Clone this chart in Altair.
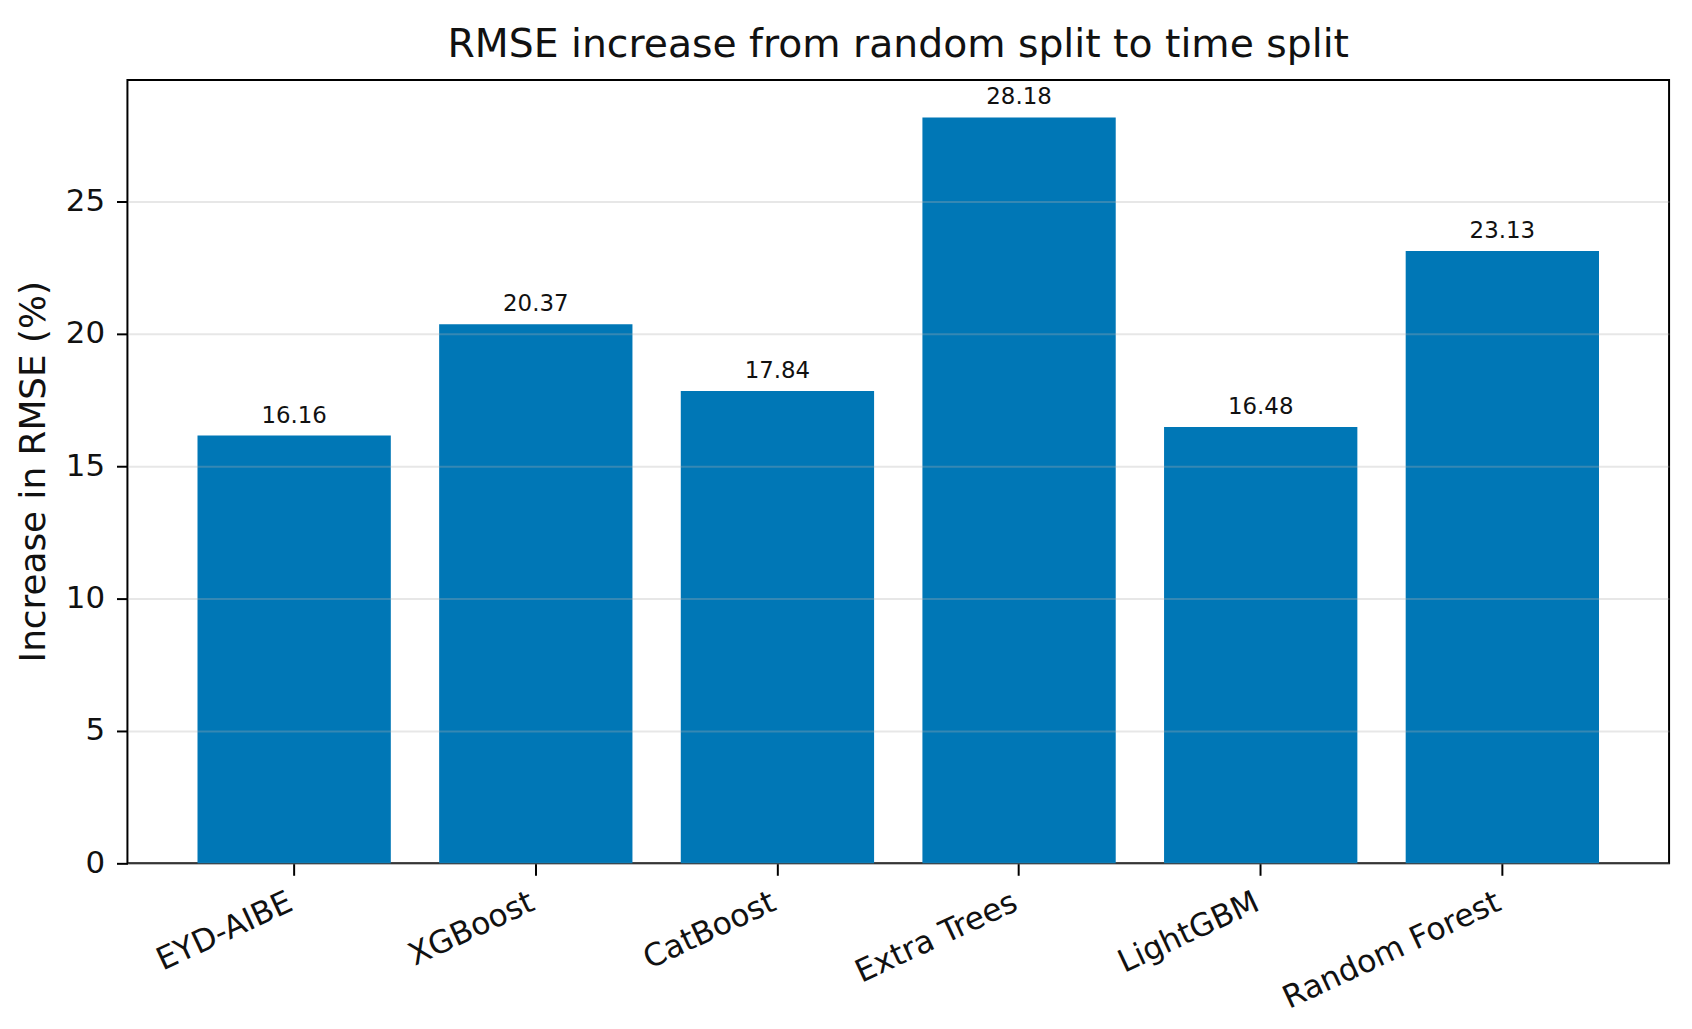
import altair as alt
import pandas as pd

models = ["EYD-AIBE", "XGBoost", "CatBoost", "Extra Trees", "LightGBM", "Random Forest"]
increase = [16.16, 20.37, 17.84, 28.18, 16.48, 23.13]
y_ticks = [0, 5, 10, 15, 20, 25]

df = pd.DataFrame({"model": models, "value": increase})
df["label"] = [f"{v:.2f}" for v in increase]

FONT = "DejaVu Sans"
BAR = "#0077B6"

x_enc = alt.X(
    "model:N",
    sort=models,
    scale=alt.Scale(paddingInner=0.2, paddingOuter=0.29),
    axis=alt.Axis(
        title=None,
        labelAngle=-25,
        labelAlign="right",
        labelBaseline="top",
        labelFontSize=31.5,
        labelPadding=11,
        labelOffset=-10,
        labelLimit=500,
        tickSize=12,
        tickWidth=2,
        tickColor="black",
        domain=False,
        grid=False,
    ),
)
y_enc = alt.Y(
    "value:Q",
    scale=alt.Scale(domain=[0, 29.59], nice=False, zero=True),
    axis=alt.Axis(
        title="Increase in RMSE (%)",
        values=y_ticks,
        format="d",
        labelFontSize=31,
        labelPadding=12,
        tickSize=11,
        tickWidth=2,
        tickColor="black",
        domain=False,
        grid=True,
        gridColor="#b0b0b0",
        gridOpacity=0.3,
        gridWidth=2,
        titleFontSize=36,
        titleFontWeight="normal",
        titleAngle=270,
        titleAlign="center",
        titleBaseline="alphabetic",
        titleX=-83,
        titleY=393,
        zindex=1,
    ),
)

bars = alt.Chart(df).mark_bar(color=BAR).encode(x=x_enc, y=y_enc)

labels = alt.Chart(df).mark_text(
    font=FONT, fontSize=23, color="#111111", baseline="alphabetic", align="center", dy=-13
).encode(x=alt.X("model:N", sort=models), y=alt.Y("value:Q"), text="label:N")

chart = (
    alt.layer(bars, labels)
    .properties(
        width=1549,
        height=787,
        autosize=alt.AutoSizeParams(type="none"),
        padding={"left": 120, "top": 70, "right": 15, "bottom": 155},
        title=alt.TitleParams(
            "RMSE increase from random split to time split",
            fontSize=39.5,
            font=FONT,
            fontWeight="normal",
            color="#111111",
            anchor="middle",
            baseline="alphabetic",
            offset=20,
            dy=36,
        ),
    )
    .configure_axis(labelFont=FONT, titleFont=FONT, labelColor="#111111", titleColor="#111111")
    .configure_view(stroke="black", strokeWidth=2)
)

chart.save("out.html", embed_options={"renderer": "svg", "actions": False})
